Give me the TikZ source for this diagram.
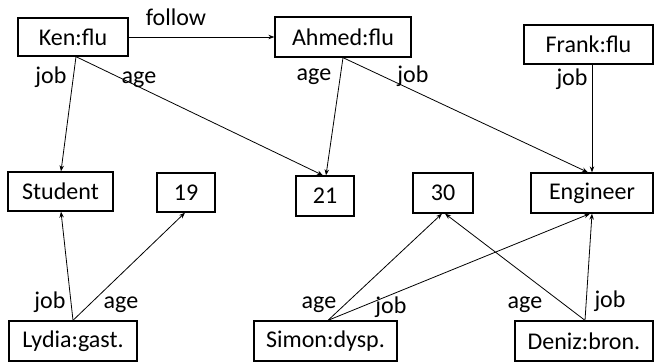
\documentclass[tikz,border=0pt]{standalone}
\usepackage{fontspec}
\setmainfont{Carlito}
\usetikzlibrary{arrows.meta}
\begin{document}
\begin{tikzpicture}[x=1pt,y=-1pt,
  every node/.style={font=\fontsize{24}{28}\selectfont},
  ent/.style={draw, line width=1.3pt, inner sep=0pt},
  rel/.style={draw, line width=0.8pt, -{Stealth[length=6pt,width=4.5pt]}},
  lbl/.style={anchor=base, inner sep=0pt}]
\useasboundingbox (0,0) rectangle (654,362);

% entity boxes
\node[ent, minimum width=110pt, minimum height=38pt] (ken)     at (73,37)    {Ken:flu};
\node[ent, minimum width=136pt, minimum height=40pt] (ahmed)   at (343,37)   {Ahmed:flu};
\node[ent, minimum width=129pt, minimum height=39pt] (frank)   at (588.5,44.5) {Frank:flu};
\node[ent, minimum width=105pt, minimum height=39pt] (student) at (60.5,191.5) {Student};
\node[ent, minimum width=58pt,  minimum height=39pt] (n19)     at (186,192.5) {19};
\node[ent, minimum width=58pt,  minimum height=40pt] (n21)     at (325,196)  {21};
\node[ent, minimum width=60pt,  minimum height=40pt] (n30)     at (443,193)  {30};
\node[ent, minimum width=122pt, minimum height=40pt] (eng)     at (592,193)  {Engineer};
\node[ent, minimum width=128pt, minimum height=40pt] (lydia)   at (73,341)   {Lydia:gast.};
\node[ent, minimum width=143pt, minimum height=40pt] (simon)   at (325.5,341) {Simon:dysp.};
\node[ent, minimum width=138pt, minimum height=40pt] (deniz)   at (584,341)  {Deniz:bron.};

% relations
\draw[rel] (ken.east) -- (ahmed.west);
\draw[rel] ([xshift=3pt]ken.south) -- ([xshift=0.5pt]student.north);
\draw[rel] ([xshift=3pt]ken.south) -- ([xshift=-2pt]n21.north);
\draw[rel] (ahmed.south) -- ([xshift=1pt]n21.north);
\draw[rel] (ahmed.south) -- ([xshift=-4pt]eng.north);
\draw[rel] ([xshift=3.5pt]frank.south) -- (eng.north);
\draw[rel] (lydia.north) -- ([xshift=0.5pt]student.south);
\draw[rel] (lydia.north) -- ([xshift=-1pt]n19.south);
\draw[rel] ([xshift=2.5pt]simon.north) -- ([xshift=-1pt]n30.south);
\draw[rel] ([xshift=2.5pt]simon.north) -- ([xshift=-2pt]eng.south);
\draw[rel] ([xshift=1pt]deniz.north) -- ([xshift=2pt]n30.south);
\draw[rel] ([xshift=1pt]deniz.north) -- (eng.south);

% relation labels
\node[lbl] (lfollow) at (176,25)  {follow};
\node[lbl] (lkenjob) at (51,83)   {job};
\node[lbl] (lkenage) at (139,83)  {age};
\node[lbl] (lahage)  at (314,80)  {age};
\node[lbl] (lahjob)  at (413,82)  {job};
\node[lbl] (lfrjob)  at (572,85)  {job};
\node[lbl] (lly1)    at (50,308)  {job};
\node[lbl] (lly2)    at (121,308) {age};
\node[lbl] (lsi1)    at (319,308) {age};
\node[lbl] (lsi2)    at (391,313) {job};
\node[lbl] (lde1)    at (525,308) {age};
\node[lbl] (lde2)    at (610,307) {job};
\end{tikzpicture}
\end{document}
